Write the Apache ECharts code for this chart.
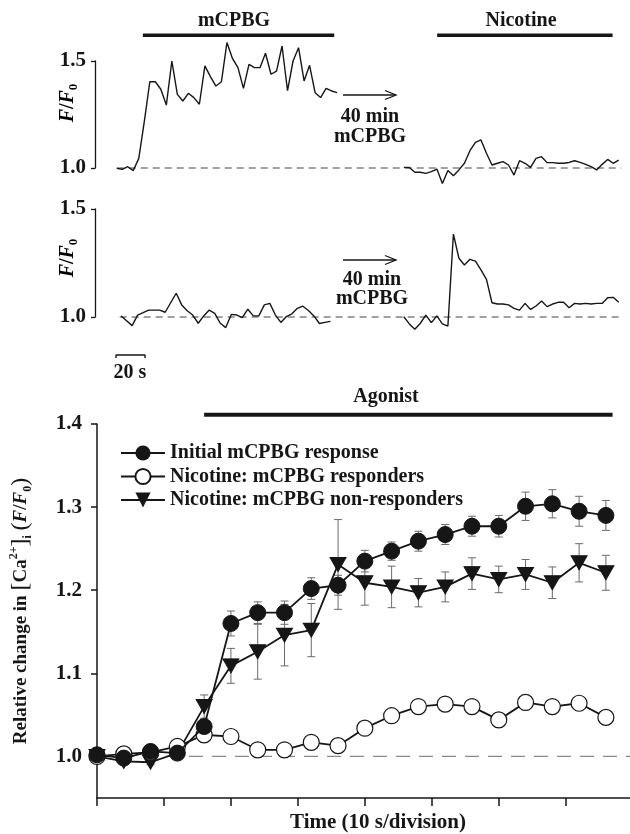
<!DOCTYPE html>
<html><head><meta charset="utf-8">
<script src="https://cdn.jsdelivr.net/npm/echarts@6/dist/echarts.min.js"></script>
<style>html,body{margin:0;padding:0;background:#fff}#c{width:630px;height:834px}</style>
</head><body><div id="c"></div>
<script>
// ================= DATA =================
// Upper traces (F/F0), one sample every sampleInterval seconds
const sampleInterval = 3.8;
const trace1aStart = 15;   // s, cell 1 initial mCPBG
const trace1bStart = 213;  // s, cell 1 nicotine after 40 min mCPBG
const trace2aStart = 18;
const trace2bStart = 213;
const trace1a = [0.998,0.994,1.006,0.988,1.045,1.217,1.403,1.403,1.368,1.294,
                 1.500,1.344,1.313,1.349,1.329,1.298,1.477,1.427,1.383,1.403,
                 1.586,1.512,1.469,1.372,1.484,1.469,1.469,1.536,1.438,1.453,
                 1.570,1.361,1.500,1.562,1.407,1.480,1.352,1.329,1.372,1.360,1.352];
const trace1b = [1.003,1.002,0.980,0.980,0.975,0.983,0.995,0.928,0.988,0.964,
                 0.991,1.022,1.081,1.120,1.131,1.069,1.014,1.022,1.030,1.014,
                 0.967,1.034,1.022,1.003,1.045,1.053,1.025,1.025,1.022,1.022,
                 1.026,1.034,1.026,1.017,1.006,0.991,1.017,1.040,1.022,1.037];
const trace2a = [1.005,0.983,0.960,1.009,1.020,1.032,1.032,1.032,1.022,1.066,
                 1.110,1.056,1.029,1.009,0.971,1.005,1.032,1.017,0.971,0.951,
                 1.012,1.009,0.997,1.036,1.005,1.005,1.056,1.063,1.009,0.975,
                 1.002,1.015,1.040,1.050,1.030,1.005,0.970,0.975,0.980];
const trace2b = [1.001,0.968,0.943,0.971,1.009,0.974,1.005,0.968,0.958,1.384,
                 1.272,1.241,1.267,1.259,1.218,1.174,1.066,1.060,1.060,1.056,
                 1.040,1.032,1.063,1.035,1.051,1.074,1.048,1.060,1.068,1.068,
                 1.043,1.063,1.060,1.063,1.060,1.063,1.063,1.089,1.091,1.068];
const baseline1 = [15, 363];
const baseline2 = [17, 363];
const mcpbgPeriod = [33, 165];
const nicotinePeriod = [236, 357];
const scaleBarSec = [14.5, 34.5];

// Lower panel: mean ± SEM, one point every 4 s
const timePoints = [0,4,8,12,16,20,24,28,32,36,40,44,48,52,56,60,64,68,72,76];
const initialMean = [1.002,0.998,1.006,1.004,1.036,1.160,1.173,1.173,1.202,1.206,
                     1.235,1.247,1.259,1.267,1.277,1.277,1.301,1.304,1.295,1.290];
const initialErr  = [0,0,0.003,0.003,0.004,0.015,0.013,0.014,0.013,0.012,
                     0.013,0.011,0.012,0.012,0.012,0.013,0.017,0.017,0.018,0.018];
const respMean = [1.000,1.003,1.005,1.012,1.026,1.024,1.008,1.008,1.017,1.013,
                  1.034,1.049,1.060,1.063,1.060,1.044,1.065,1.060,1.064,1.047];
const respErr  = [0,0,0,0,0.003,0.003,0.003,0.003,0.003,0.003,
                  0.004,0.004,0.005,0.005,0.005,0.005,0.009,0.005,0.005,0.005];
const nonRespMean = [1.000,0.994,0.993,1.004,1.060,1.109,1.126,1.146,1.152,1.231,
                     1.209,1.204,1.197,1.204,1.220,1.213,1.219,1.209,1.233,1.221];
const nonRespErr  = [0,0.003,0.003,0.003,0.014,0.021,0.033,0.037,0.032,0.054,
                     0.027,0.025,0.017,0.018,0.019,0.016,0.018,0.019,0.023,0.021];
const agonistPeriod = [16, 77];
const timeTicks = [0, 10, 20, 30, 40, 50, 60, 70];
const bottomTicks = [1.0, 1.1, 1.2, 1.3, 1.4];
const seriesNames = ['Initial mCPBG response','Nicotine: mCPBG responders','Nicotine: mCPBG non-responders'];

// ================= CHART =================
const FF = 'Liberation Serif';
const INK = '#161616';
const chart = echarts.init(document.getElementById('c'), null, {renderer:'canvas'});

const trace = (arr, start) => arr.map((v,i)=>[start + i*sampleInterval, v]);
const errData = (mean, err) => timePoints.map((t,i)=>[t, mean[i]-err[i], mean[i]+err[i], err[i]]);

function errRender(params, api){
  if (api.value(3) <= 0) return null;
  const x = api.value(0);
  const top = api.coord([x, api.value(2)]);
  const bot = api.coord([x, api.value(1)]);
  const w = 4, st = {stroke:'#6a6a6a', lineWidth:1};
  return {type:'group', children:[
    {type:'line', shape:{x1:top[0],y1:top[1],x2:bot[0],y2:bot[1]}, style:st},
    {type:'line', shape:{x1:top[0]-w,y1:top[1],x2:top[0]+w,y2:top[1]}, style:st},
    {type:'line', shape:{x1:bot[0]-w,y1:bot[1],x2:bot[0]+w,y2:bot[1]}, style:st}
  ]};
}

const topY = (idx) => ({
  gridIndex: idx, min: 1.0, max: 1.5, interval: 0.5,
  axisLine:{show:true, lineStyle:{color:INK, width:1.3}},
  axisTick:{show:true, length:4, lineStyle:{color:INK, width:1.3}},
  axisLabel:{show:true, margin:9, fontFamily:FF, fontWeight:'bold', fontSize:21, color:INK,
             formatter:v=>v.toFixed(1)},
  splitLine:{show:false}
});
const topX = (idx) => ({gridIndex: idx, type:'value', min:0, max:369, show:false});

const traceLine = (data, gi) => ({
  type:'line', xAxisIndex:gi, yAxisIndex:gi, data, showSymbol:false, clip:false,
  lineStyle:{color:INK, width:1.4}, silent:true, z:3
});
const dashLine = (range, gi, y, color, dash, width) => ({
  type:'line', xAxisIndex:gi, yAxisIndex:gi, data:[[range[0],y],[range[1],y]],
  showSymbol:false, clip:false, silent:true, z:1,
  lineStyle:{color, width, type:dash}
});
const barLine = (range, gi, y, width) => ({
  type:'line', xAxisIndex:gi, yAxisIndex:gi, data:[[range[0],y],[range[1],y]],
  showSymbol:false, clip:false, silent:true, lineStyle:{color:INK, width}
});

const txt = (text, x, y, size, extra) => Object.assign({
  type:'text', x, y, style:{text, fontFamily:FF, fontWeight:'bold', fontSize:size, fill:INK,
  align:'center', verticalAlign:'middle'}}, extra||{});

const ffRich = {
  i:{fontFamily:FF, fontWeight:'bold', fontStyle:'italic', fontSize:20, lineHeight:24, color:INK},
  n:{fontFamily:FF, fontWeight:'bold', fontSize:20, lineHeight:24, color:INK},
  sub:{fontFamily:FF, fontWeight:'bold', fontSize:13, color:INK, verticalAlign:'bottom'}
};
const ffLabel = (x, y) => ({
  type:'text', x, y, rotation: Math.PI/2,
  style:{text:'{i|F}{n|/}{i|F}{sub|0}', rich:ffRich, align:'center', verticalAlign:'middle'}
});
const arrow = (x1, x2, y) => ({type:'group', children:[
  {type:'line', shape:{x1, y1:y, x2, y2:y}, style:{stroke:INK, lineWidth:1.3}},
  {type:'polyline', shape:{points:[[x2-11,y-4.5],[x2,y],[x2-11,y+4.5]]}, style:{stroke:INK, lineWidth:1.3, fill:null}}
]});

const option = {
  animation:false,
  backgroundColor:'#ffffff',
  grid:[
    {left:95, top:61, height:107, right:0},
    {left:95, top:209, height:108, right:0},
    {left:96, top:424, height:374, right:0}
  ],
  xAxis:[ topX(0), topX(1),
    {gridIndex:2, type:'value', min:0, max:79.6,
     axisLine:{show:true, lineStyle:{color:INK, width:1.5}},
     axisTick:{show:true, inside:false, length:8, customValues:timeTicks, lineStyle:{color:INK, width:1.5}},
     axisLabel:{show:false}, splitLine:{show:false}}
  ],
  yAxis:[ topY(0), topY(1),
    {gridIndex:2, type:'value', min:0.95, max:1.4,
     axisLine:{show:true, lineStyle:{color:INK, width:1.5}},
     axisTick:{show:true, length:6, customValues:bottomTicks, lineStyle:{color:INK, width:1.5}},
     axisLabel:{show:true, margin:15, customValues:bottomTicks, fontFamily:FF, fontWeight:'bold',
                fontSize:21, color:INK, formatter:v=>v.toFixed(1)},
     splitLine:{show:false},
     name:'{n|Relative change in }{b|[}{n|Ca}{sup|2+}{b|]}{sub|i}{n| }{b|(}{i|F}{n|/}{i|F}{sub|0}{b|)}',
     nameLocation:'middle', nameRotate:90, nameGap:63,
     nameTextStyle:{rich:{
       n:{fontFamily:FF, fontWeight:'bold', fontSize:19, lineHeight:26, color:INK},
       i:{fontFamily:FF, fontWeight:'bold', fontStyle:'italic', fontSize:19, lineHeight:26, color:INK},
       b:{fontFamily:FF, fontWeight:'normal', fontSize:24, lineHeight:26, color:INK},
       sup:{fontFamily:FF, fontWeight:'bold', fontSize:12, color:INK, verticalAlign:'top'},
       sub:{fontFamily:FF, fontWeight:'bold', fontSize:12, color:INK, verticalAlign:'bottom'}
     }}}
  ],
  legend:{
    orient:'vertical', left:115, top:438, itemWidth:44, itemHeight:19, itemGap:3.5,
    selectedMode:false, data:seriesNames,
    textStyle:{fontFamily:FF, fontWeight:'bold', fontSize:20, color:INK, lineHeight:18}
  },
  series:[
    // top panel 1
    dashLine(baseline1, 0, 1.0, '#444', [7,5], 1.1),
    traceLine(trace(trace1a, trace1aStart), 0),
    traceLine(trace(trace1b, trace1bStart), 0),
    barLine(mcpbgPeriod, 0, 1.62, 3.5),
    barLine(nicotinePeriod, 0, 1.62, 3.5),
    // top panel 2
    dashLine(baseline2, 1, 1.0, '#444', [7,5], 1.1),
    traceLine(trace(trace2a, trace2aStart), 1),
    traceLine(trace(trace2b, trace2bStart), 1),
    {type:'line', xAxisIndex:1, yAxisIndex:1, clip:false, showSymbol:false, silent:true,
     data:[[scaleBarSec[0],0.81],[scaleBarSec[0],0.824],[scaleBarSec[1],0.824],[scaleBarSec[1],0.81]],
     lineStyle:{color:INK, width:1.4}},
    // bottom panel
    dashLine([0,79.6], 2, 1.0, '#8a8a8a', [14,9], 1.2),
    barLine(agonistPeriod, 2, 1.411, 4),
    {type:'custom', xAxisIndex:2, yAxisIndex:2, renderItem:errRender, data:errData(initialMean, initialErr), encode:{x:0,y:[1,2]}, z:2, silent:true},
    {type:'custom', xAxisIndex:2, yAxisIndex:2, renderItem:errRender, data:errData(respMean, respErr), encode:{x:0,y:[1,2]}, z:2, silent:true},
    {type:'custom', xAxisIndex:2, yAxisIndex:2, renderItem:errRender, data:errData(nonRespMean, nonRespErr), encode:{x:0,y:[1,2]}, z:2, silent:true},
    {name:seriesNames[2], type:'line', xAxisIndex:2, yAxisIndex:2, z:3,
     data:timePoints.map((t,i)=>[t, nonRespMean[i]]),
     symbol:'triangle', symbolRotate:180, symbolSize:[16,14],
     itemStyle:{color:INK, borderColor:INK}, lineStyle:{color:INK, width:1.8}},
    {name:seriesNames[1], type:'line', xAxisIndex:2, yAxisIndex:2, z:4,
     data:timePoints.map((t,i)=>[t, respMean[i]]),
     symbol:'circle', symbolSize:16,
     itemStyle:{color:'#ffffff', borderColor:INK, borderWidth:1.2}, lineStyle:{color:INK, width:1.8}},
    {name:seriesNames[0], type:'line', xAxisIndex:2, yAxisIndex:2, z:5,
     data:timePoints.map((t,i)=>[t, initialMean[i]]),
     symbol:'circle', symbolSize:16,
     itemStyle:{color:INK, borderColor:INK}, lineStyle:{color:INK, width:1.8}}
  ],
  graphic:[
    txt('mCPBG', 234, 21, 20),
    txt('Nicotine', 521, 21, 20),
    arrow(343, 396, 95),
    txt('40 min', 370, 117, 20),
    txt('mCPBG', 370, 137, 20),
    arrow(343, 396, 260),
    txt('40 min', 372, 280, 20),
    txt('mCPBG', 372, 299, 20),
    ffLabel(68, 103),
    ffLabel(68, 258),
    txt('20 s', 130, 373, 20),
    txt('Agonist', 386, 397, 20),
    txt('Time (10 s/division)', 378, 823, 21)
  ]
};
chart.setOption(option);
</script>
</body></html>
